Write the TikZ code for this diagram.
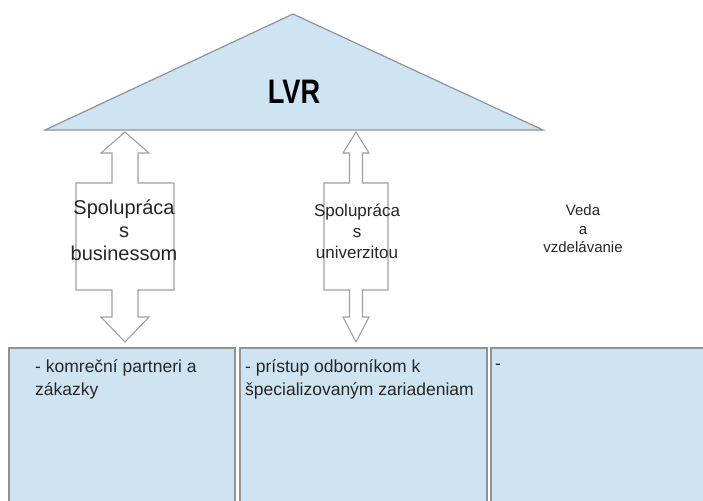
\documentclass[tikz,border=0pt]{standalone}
\usepackage{fontspec}
\setmainfont{Liberation Sans}
\usetikzlibrary{calc}
\definecolor{panel}{HTML}{CFE4F3}
\definecolor{edge}{HTML}{8F9396}
\definecolor{arrowline}{HTML}{A0A0A0}
\tikzset{
  panelbox/.style={draw=edge, line width=1.8pt, fill=panel},
  panelnote/.style={inner sep=0pt, align=left, anchor=north west,
    font=\fontsize{17.5}{23}\selectfont, text=black!85},
  arrowlabel/.style={align=center, inner sep=0pt, text=black!85},
  bidi/.style={draw=arrowline, line width=1.1pt, fill=white, line join=miter},
}
% double-headed arrow with a wide middle body: #1 centre x, #2 head half-width,
% #3 shaft half-width, #4 body half-width
\newcommand\bidiarrow[4]{%
  \draw[bidi] (#1,132) -- (#1+#2,153) -- (#1+#3,153) -- (#1+#3,183)
    -- (#1+#4,183) -- (#1+#4,290) -- (#1+#3,290) -- (#1+#3,317)
    -- (#1+#2,317) -- (#1,342) -- (#1-#2,317) -- (#1-#3,317)
    -- (#1-#3,290) -- (#1-#4,290) -- (#1-#4,183) -- (#1-#3,183)
    -- (#1-#3,153) -- (#1-#2,153) -- cycle;}
\begin{document}
\begin{tikzpicture}[x=1pt,y=-1pt]
\useasboundingbox (0,0) rectangle (703,500);
\clip (0,0) rectangle (703,500);
\fill[white] (0,0) rectangle (703,500);

% roof
\draw[draw=edge, line width=1.2pt, fill=panel, line join=miter]
  (45,130) -- (293,14) -- (543,130) -- cycle;
\node[font=\bfseries\fontsize{34}{34}\selectfont, inner sep=0pt] (lvr) at (294,92)
  {\scalebox{0.8}[1]{LVR}};

% pillars
\bidiarrow{125}{24}{13}{49}
\bidiarrow{356}{13}{6.5}{32}

\node[arrowlabel, font=\fontsize{20}{23}\selectfont] (biz) at (124,230)
  {Spolupráca\\s\\businessom};
\node[arrowlabel, font=\fontsize{17}{21}\selectfont] (uni) at (357,231)
  {Spolupráca\\s\\univerzitou};
\node[arrowlabel, font=\fontsize{15}{18.5}\selectfont] (veda) at (583,229)
  {Veda\\a\\vzdelávanie};

% foundation panels
\draw[panelbox] (9,348) rectangle (235,520);
\draw[panelbox] (240,348) rectangle (487,520);
\draw[panelbox] (491,348) rectangle (712,520);

\node[panelnote] (n1) at (35,359) {- komreční partneri a\\zákazky};
\node[panelnote] (n2) at (245,359) {- prístup odborníkom k\\špecializovaným zariadeniam};
\node[panelnote] (n3) at (495,364) {-};
\end{tikzpicture}
\end{document}
